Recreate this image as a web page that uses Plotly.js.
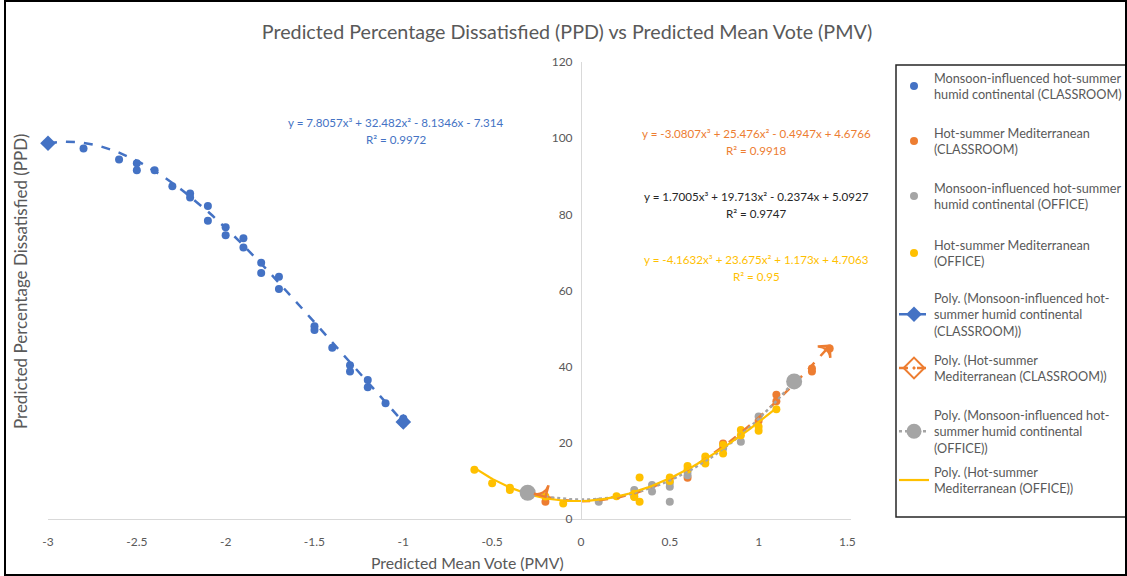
<!DOCTYPE html>
<html><head><meta charset="utf-8">
<script src="https://cdn.plot.ly/plotly-3.0.1.min.js"></script>
<style>html,body{margin:0;padding:0;background:#fff;overflow:hidden;width:1127px;height:576px}#chart{width:1160px;height:576px}</style>
</head><body><div id="chart"></div>
<script>
// ---------- DATA ----------
const chartTitle = "Predicted Percentage Dissatisfied (PPD) vs Predicted Mean Vote (PMV)";
const xTitle = "Predicted Mean Vote (PMV)";
const yTitle = "Predicted Percentage Dissatisfied (PPD)";
const xTickVals = [-3, -2.5, -2, -1.5, -1, -0.5, 0, 0.5, 1, 1.5];
const xTickLabels = ["-3", "-2.5", "-2", "-1.5", "-1", "-0.5", "0", "0.5", "1", "1.5"];
const yTickVals = [0, 20, 40, 60, 80, 100, 120];
const yTickLabels = ["0", "20", "40", "60", "80", "100", "120"];

const seriesNames = [
  "Monsoon-influenced hot-summer<br>humid continental (CLASSROOM)",
  "Hot-summer Mediterranean<br>(CLASSROOM)",
  "Monsoon-influenced hot-summer<br>humid continental (OFFICE)",
  "Hot-summer Mediterranean<br>(OFFICE)"
];
const trendNames = [
  "Poly. (Monsoon-influenced hot-<br>summer humid continental<br>(CLASSROOM))",
  "Poly. (Hot-summer<br>Mediterranean (CLASSROOM))",
  "Poly. (Monsoon-influenced hot-<br>summer humid continental<br>(OFFICE))",
  "Poly. (Hot-summer<br>Mediterranean (OFFICE))"
];

const classroomMonsoonX = [-3, -2.8, -2.6, -2.5, -2.5, -2.4, -2.3, -2.2, -2.2, -2.1, -2.1, -2.0, -2.0, -1.9, -1.9, -1.8, -1.8, -1.7, -1.7, -1.5, -1.5, -1.4, -1.3, -1.3, -1.2, -1.2, -1.1, -1.0, -1.0];
const classroomMonsoonY = [98.6, 97.3, 94.4, 93.4, 91.6, 91.6, 87.4, 85.5, 84.4, 82.2, 78.3, 76.6, 74.5, 73.7, 71.3, 67.3, 64.6, 63.6, 60.4, 50.6, 49.6, 45.0, 40.4, 38.7, 36.5, 34.6, 30.4, 26.4, 25.1];

const classroomMedX = [-0.2, 0.6, 0.8, 1.0, 1.1, 1.1, 1.3, 1.3, 1.4];
const classroomMedY = [4.5, 10.8, 19.8, 25.8, 32.6, 30.9, 38.7, 39.5, 44.8];

const officeMonsoonX = [-0.3, 0.1, 0.3, 0.3, 0.4, 0.4, 0.5, 0.5, 0.5, 0.6, 0.6, 0.8, 0.9, 1.0, 1.2];
const officeMonsoonY = [6.6, 4.5, 7.6, 5.9, 8.9, 7.2, 9.5, 8.5, 4.5, 12.4, 11.5, 18.5, 20.3, 26.9, 35.6];

const officeMedX = [-0.6, -0.5, -0.4, -0.4, -0.2, -0.1, 0.2, 0.3, 0.3, 0.33, 0.33, 0.5, 0.5, 0.6, 0.6, 0.7, 0.7, 0.7, 0.8, 0.8, 0.9, 0.9, 1.0, 1.0, 1.1];
const officeMedY = [12.9, 9.4, 8.2, 7.6, 5.9, 4.1, 6.0, 6.6, 5.8, 10.9, 4.5, 10.9, 10.0, 13.9, 13.0, 16.4, 14.6, 15.5, 19.4, 17.2, 23.4, 22.0, 24.2, 23.2, 28.8];

// Trendline coefficients shown on the chart: a x^3 + b x^2 + c x + d
const trendCoefClassroomMonsoon = [7.8057, 32.482, -8.1346, -7.314];
const trendCoefClassroomMed = [-3.0807, 25.476, -0.4947, 4.6766];
const trendCoefOfficeMonsoon = [1.7005, 19.713, -0.2374, 5.0927];
const trendCoefOfficeMed = [-4.1632, 23.675, 1.173, 4.7063];
const trendR2 = ["0.9972", "0.9918", "0.9747", "0.95"];
const trendRanges = [[-3, -1], [-0.2, 1.4], [-0.3, 1.2], [-0.6, 1.1]];

// ---------- STYLE ----------
const FONT = "Lato, 'Open Sans', sans-serif";
const GREY_TXT = "#595959";
const C_BLUE = "#4472C4", C_ORANGE = "#ED7D31", C_GREY = "#A5A5A5", C_YELLOW = "#FFC000";

// plot area in pixels (paper is wider than the 1127px window so the legend never pushes the margins)
const PAGE_W = 1160, PAGE_H = 576;
const L = 48, T = 62, B = 57, PLOT_RIGHT = 851;
const R = PAGE_W - PLOT_RIGHT, W = PLOT_RIGHT - L, H = PAGE_H - T - B;
const px = v => (v - L) / W;
const py = v => (PAGE_H - B - v) / H;

function cubic(c, x) { return c[0]*x*x*x + c[1]*x*x + c[2]*x + c[3]; }
function curve(c, r) {
  const xs = [], ys = [], n = 80;
  for (let i = 0; i <= n; i++) { const x = r[0] + (r[1]-r[0])*i/n; xs.push(x); ys.push(cubic(c, x)); }
  return {xs, ys};
}
function fmtTerm(v, first) {
  if (first) return String(v);
  return (v < 0 ? "- " : "+ ") + String(Math.abs(v));
}
function eqText(c) {
  return "y = " + fmtTerm(c[0], true) + "x³ " + fmtTerm(c[1]) + "x² " + fmtTerm(c[2]) + "x " + fmtTerm(c[3]);
}

const coefs = [trendCoefClassroomMonsoon, trendCoefClassroomMed, trendCoefOfficeMonsoon, trendCoefOfficeMed];
const colors = [C_BLUE, C_ORANGE, C_GREY, C_YELLOW];
const xsAll = [classroomMonsoonX, classroomMedX, officeMonsoonX, officeMedX];
const ysAll = [classroomMonsoonY, classroomMedY, officeMonsoonY, officeMedY];

// one legend box per entry so every entry sits at its own height (first text line, in px)
const legendLineY = [78, 133, 188, 245, 298, 360, 415, 472];
const legendIds = ["legend", "legend2", "legend3", "legend4", "legend5", "legend6", "legend7", "legend8"];

const traces = [];
// scatter series
for (let i = 0; i < 4; i++) {
  traces.push({
    type: "scatter", mode: "markers", x: xsAll[i], y: ysAll[i], name: seriesNames[i],
    legend: legendIds[i], cliponaxis: false,
    marker: {color: colors[i], size: 8, line: {width: 0}}
  });
}
// trendline styles
const trendLine = [
  {color: C_BLUE, width: 2.5, dash: "dash"},
  {color: C_ORANGE, width: 2.5, dash: "dash"},
  {color: C_GREY, width: 2.5, dash: "dot"},
  {color: C_YELLOW, width: 2.2, dash: "solid"}
];
const legendMarker = [
  {symbol: "diamond", size: 12, color: C_BLUE},
  {symbol: "diamond-open-dot", size: 16, color: C_ORANGE, line: {color: C_ORANGE, width: 2}},
  {symbol: "circle", size: 15, color: C_GREY},
  {symbol: "circle", size: 0.1, color: C_YELLOW, opacity: 0}
];
for (let i = 0; i < 4; i++) {
  const cv = curve(coefs[i], trendRanges[i]);
  traces.push({
    type: "scatter", mode: "lines", x: cv.xs, y: cv.ys, showlegend: false,
    line: trendLine[i], hoverinfo: "skip", cliponaxis: false
  });
  // legend entry
  traces.push({
    type: "scatter", mode: i === 3 ? "lines" : "lines+markers", x: [null], y: [null], name: trendNames[i],
    legend: legendIds[4 + i], line: trendLine[i], marker: legendMarker[i]
  });
}
// end markers of trendlines
const r0 = trendRanges[0], r1 = trendRanges[1], r2 = trendRanges[2];
traces.push({
  type: "scatter", mode: "markers", showlegend: false, cliponaxis: false, hoverinfo: "skip",
  x: [r0[0], r0[1]], y: [cubic(coefs[0], r0[0]), cubic(coefs[0], r0[1])],
  marker: {symbol: "diamond", size: 12, color: C_BLUE}
});
traces.push({
  type: "scatter", mode: "markers", showlegend: false, cliponaxis: false, hoverinfo: "skip",
  x: [r2[0], r2[1]], y: [cubic(coefs[2], r2[0]), cubic(coefs[2], r2[1])],
  marker: {symbol: "circle", size: 16, color: C_GREY}
});
traces.push({
  type: "scatter", mode: "markers", showlegend: false, cliponaxis: false, hoverinfo: "skip",
  x: [r1[0], r1[1]], y: [cubic(coefs[1], r1[0]), cubic(coefs[1], r1[1])],
  marker: {symbol: "arrow-wide-open", size: 12, angle: [150, 42], color: C_ORANGE, line: {color: C_ORANGE, width: 2.5}}
});

// equation annotations
const eqPos = [[396, 122, 139], [756, 133, 151], [756, 196, 213], [756, 259, 276]];
const eqColors = [C_BLUE, C_ORANGE, "#262626", C_YELLOW];
const annotations = [];
for (let i = 0; i < 4; i++) {
  annotations.push({xref: "paper", yref: "paper", x: px(eqPos[i][0]), y: py(eqPos[i][1]), xanchor: "center", yanchor: "middle",
    showarrow: false, text: eqText(coefs[i]), font: {family: FONT, size: 11.6, color: eqColors[i]}});
  annotations.push({xref: "paper", yref: "paper", x: px(eqPos[i][0]), y: py(eqPos[i][2]), xanchor: "center", yanchor: "middle",
    showarrow: false, text: "R² = " + trendR2[i], font: {family: FONT, size: 11.6, color: eqColors[i]}});
}
annotations.push({xref: "paper", yref: "paper", x: px(20), y: py(282), textangle: -90, xanchor: "center", yanchor: "middle",
  showarrow: false, text: yTitle, font: {family: FONT, size: 17, color: GREY_TXT}});
annotations.push({xref: "paper", yref: "paper", x: px(467), y: py(562), xanchor: "center", yanchor: "middle",
  showarrow: false, text: xTitle, font: {family: FONT, size: 15.8, color: GREY_TXT}});

const layout = {
  width: PAGE_W, height: PAGE_H,
  margin: {l: L, r: R, t: T, b: B, pad: 0},
  paper_bgcolor: "#fff", plot_bgcolor: "#fff",
  font: {family: FONT, color: GREY_TXT},
  title: {text: chartTitle, x: px(567), xref: "paper", xanchor: "center", y: 1 - 32/PAGE_H, yanchor: "middle",
    font: {family: FONT, size: 19.7, color: GREY_TXT}},
  showlegend: true,
  xaxis: {range: [-3, 1.52], tickvals: xTickVals, ticktext: xTickLabels, showline: true, linecolor: "#d9d9d9", linewidth: 1,
    showgrid: false, zeroline: false, ticks: "", ticklabelstandoff: 12, tickfont: {family: FONT, size: 12, color: GREY_TXT}},
  yaxis: {range: [0, 120], tickvals: yTickVals, ticktext: yTickLabels, anchor: "free", position: 3 / 4.52, side: "left",
    showline: true, linecolor: "#d9d9d9", linewidth: 1, showgrid: false, zeroline: false, ticks: "",
    ticklabelstandoff: 6, tickfont: {family: FONT, size: 12, color: GREY_TXT}},
  annotations: annotations,
  shapes: [
    {type: "rect", xref: "paper", yref: "paper", x0: px(896), x1: px(1150), y0: py(517), y1: py(65),
      line: {color: "#262626", width: 1.5}, fillcolor: "rgba(0,0,0,0)", layer: "above"},
    {type: "rect", xref: "paper", yref: "paper", x0: px(5), x1: px(1126), y0: py(575), y1: py(1),
      line: {color: "#000", width: 2}, fillcolor: "rgba(0,0,0,0)", layer: "above"}
  ]
};
legendIds.forEach((id, k) => {
  layout[id] = {x: px(894), y: py(legendLineY[k] - 15), xanchor: "left", yanchor: "top", xref: "paper", yref: "paper",
    bgcolor: "rgba(0,0,0,0)", borderwidth: 0, itemwidth: 30,
    font: {family: FONT, size: 12.7, color: GREY_TXT}};
});

Plotly.newPlot("chart", traces, layout, {displayModeBar: false, staticPlot: true});
</script></body></html>
